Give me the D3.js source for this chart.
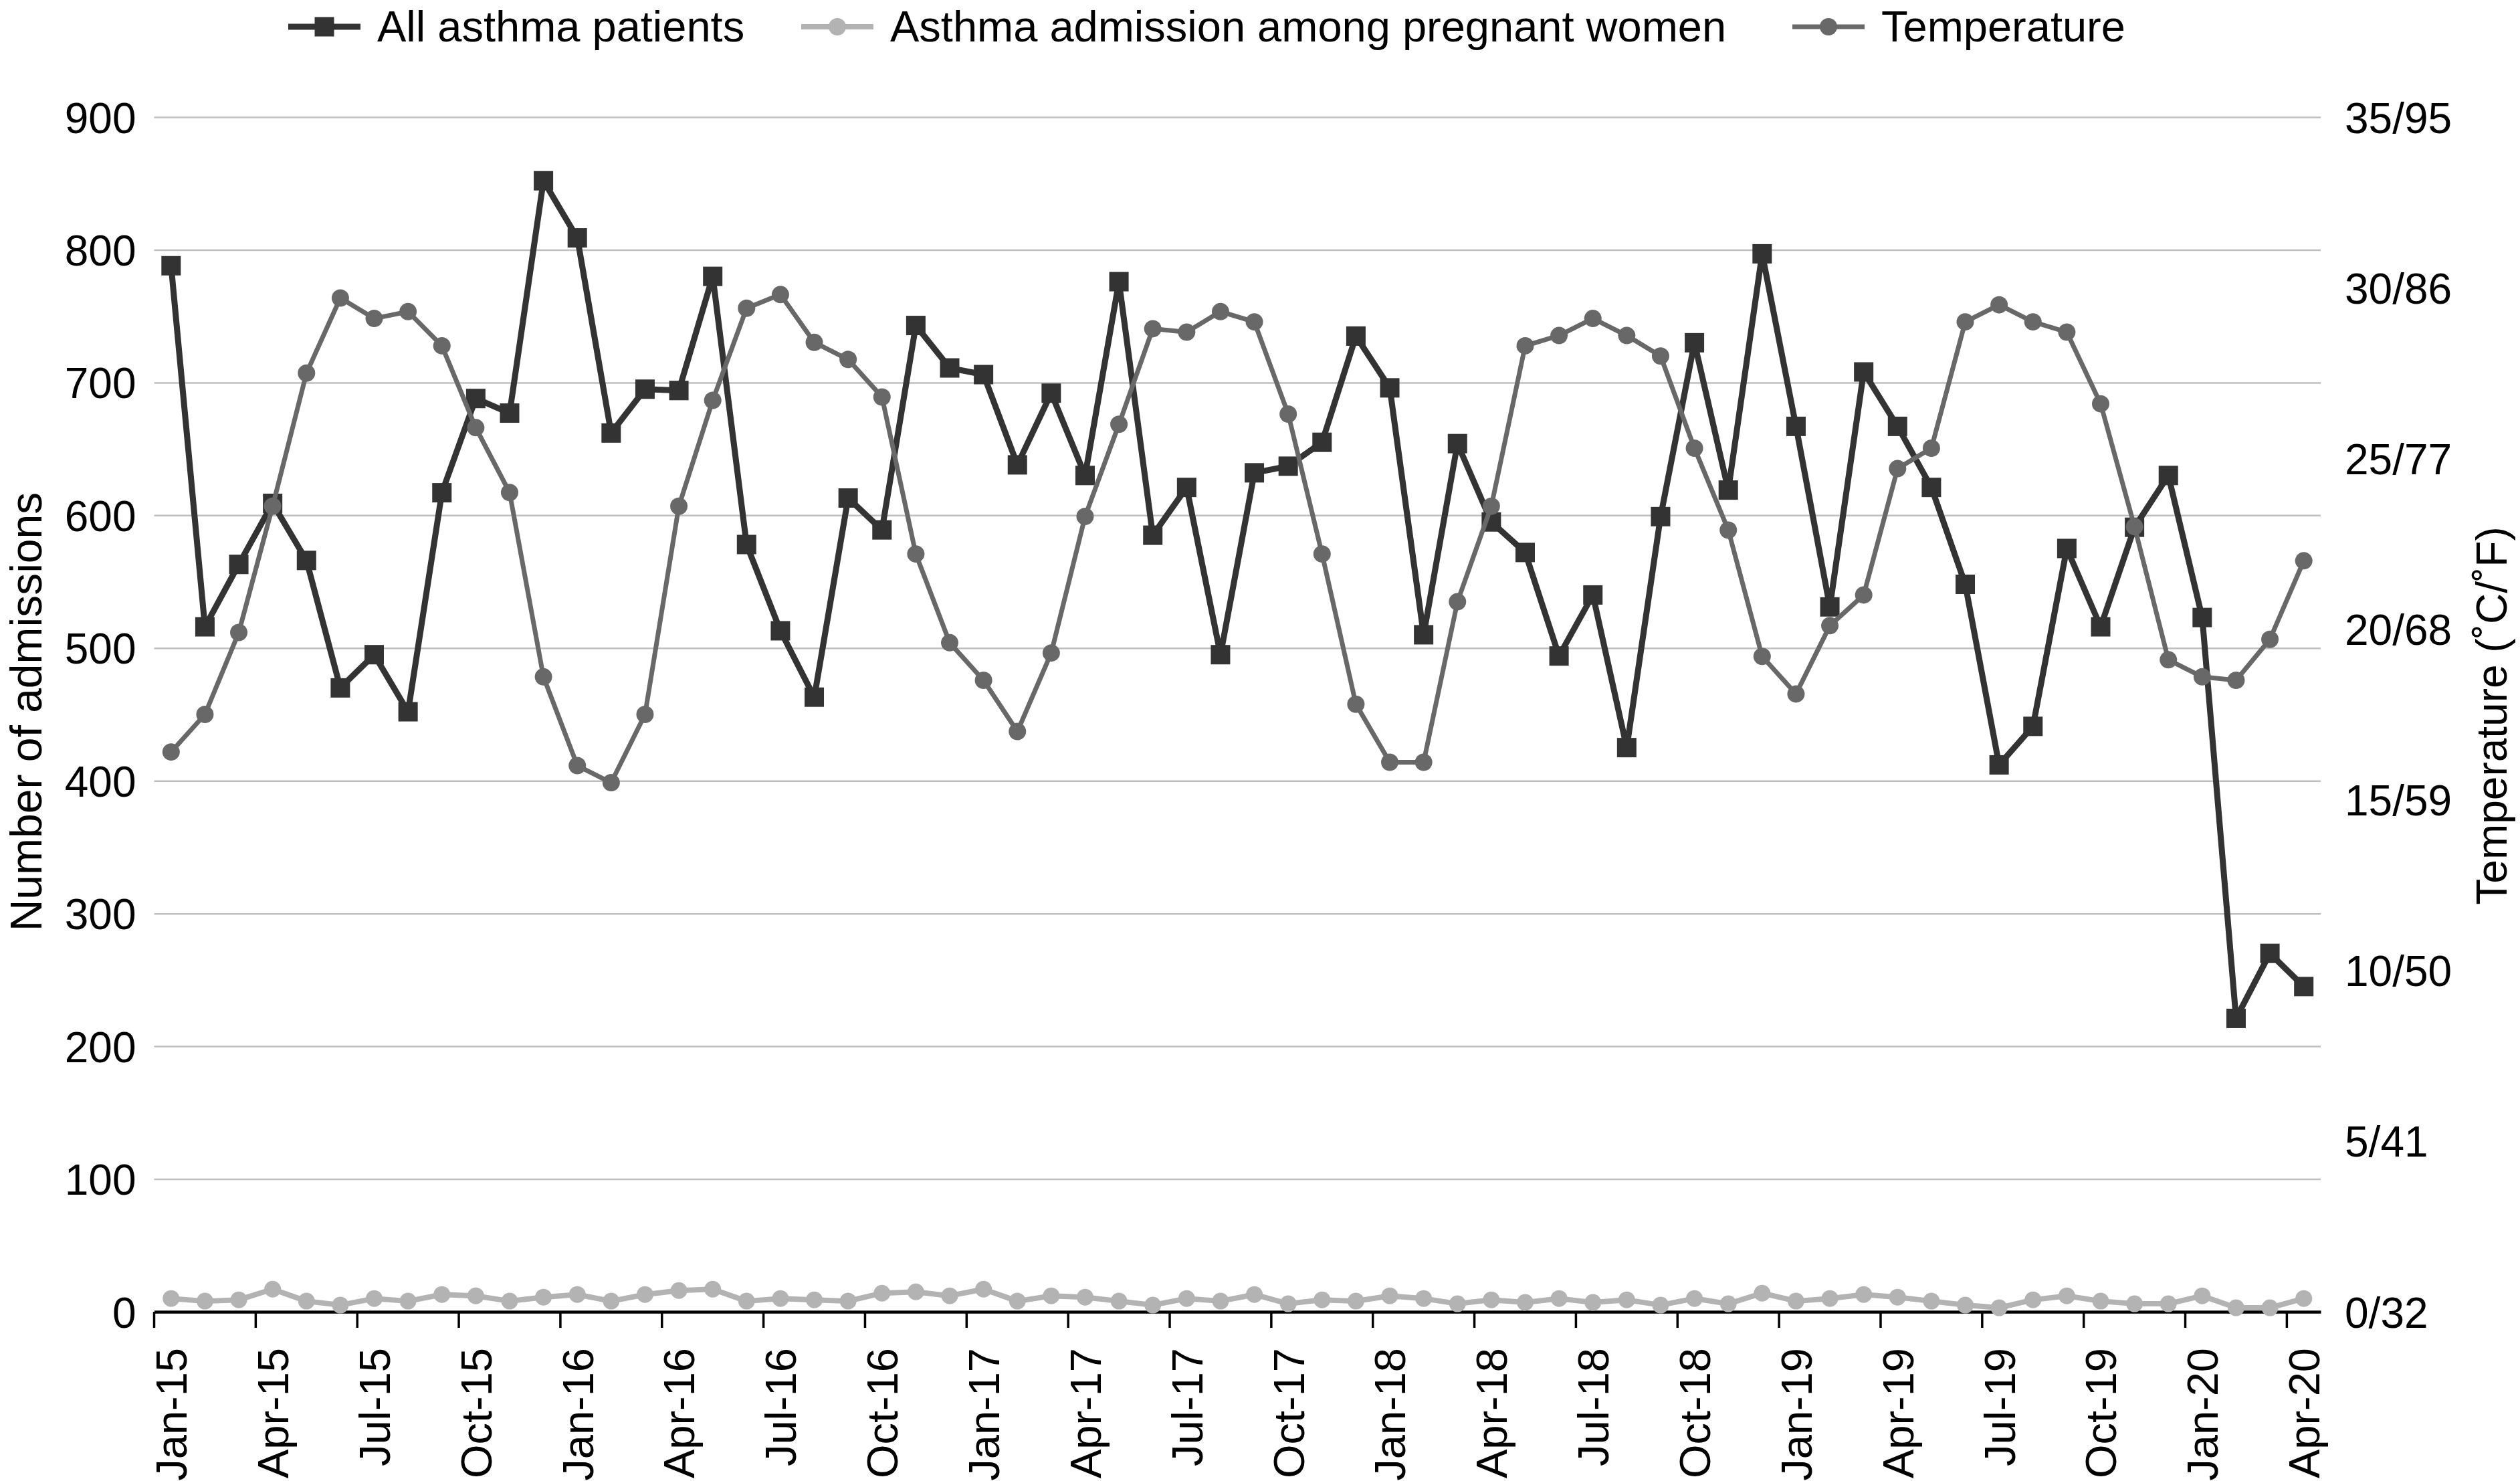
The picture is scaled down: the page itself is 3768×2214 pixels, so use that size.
<!DOCTYPE html>
<html>
<head>
<meta charset="utf-8">
<script src="https://cdn.jsdelivr.net/npm/d3@7"></script>
<style>
  html, body { margin: 0; padding: 0; background: #ffffff; }
  svg { display: block; }
  text { font-family: "Liberation Sans", Arial, Helvetica, sans-serif; fill: #000; }
</style>
</head>
<body>
<svg id="chart" width="3768" height="2214"></svg>
<script>
// ---------------- DATA ----------------
const months = [
  "Jan-15","Feb-15","Mar-15","Apr-15","May-15","Jun-15","Jul-15","Aug-15","Sep-15","Oct-15","Nov-15","Dec-15",
  "Jan-16","Feb-16","Mar-16","Apr-16","May-16","Jun-16","Jul-16","Aug-16","Sep-16","Oct-16","Nov-16","Dec-16",
  "Jan-17","Feb-17","Mar-17","Apr-17","May-17","Jun-17","Jul-17","Aug-17","Sep-17","Oct-17","Nov-17","Dec-17",
  "Jan-18","Feb-18","Mar-18","Apr-18","May-18","Jun-18","Jul-18","Aug-18","Sep-18","Oct-18","Nov-18","Dec-18",
  "Jan-19","Feb-19","Mar-19","Apr-19","May-19","Jun-19","Jul-19","Aug-19","Sep-19","Oct-19","Nov-19","Dec-19",
  "Jan-20","Feb-20","Mar-20","Apr-20"
];

const allAsthma = [
  788, 516, 563, 609, 566, 470, 495, 452, 617, 688, 677, 852,
  809, 662, 695, 694, 780, 578, 513, 463, 613, 589, 743, 711,
  706, 638, 692, 630, 776, 585, 621, 495, 632, 637, 655, 735,
  696, 510, 654, 595, 572, 494, 540, 425, 599, 730, 619, 797,
  667, 531, 708, 667, 621, 548, 412, 441, 575, 516, 591, 630,
  523, 221, 270, 245
];

const pregnant = [
  10, 8, 9, 17, 8, 5, 10, 8, 13, 12, 8, 11,
  13, 8, 13, 16, 17, 8, 10, 9, 8, 14, 15, 12,
  17, 8, 12, 11, 8, 5, 10, 8, 13, 6, 9, 8,
  12, 10, 6, 9, 7, 10, 7, 9, 5, 10, 6, 14,
  8, 10, 13, 11, 8, 5, 3, 9, 12, 8, 6, 6,
  12, 3, 3, 10
];

// Temperature in °C
const temperature = [
  16.4, 17.5, 19.9, 23.6, 27.5, 29.7, 29.1, 29.3, 28.3, 25.9, 24.0, 18.6,
  16.0, 15.5, 17.5, 23.6, 26.7, 29.4, 29.8, 28.4, 27.9, 26.8, 22.2, 19.6,
  18.5, 17.0, 19.3, 23.3, 26.0, 28.8, 28.7, 29.3, 29.0, 26.3, 22.2, 17.8,
  16.1, 16.1, 20.8, 23.6, 28.3, 28.6, 29.1, 28.6, 28.0, 25.3, 22.9, 19.2,
  18.1, 20.1, 21.0, 24.7, 25.3, 29.0, 29.5, 29.0, 28.7, 26.6, 23.0, 19.1,
  18.6, 18.5, 19.7, 22.0
];

const leftTicks = [0, 100, 200, 300, 400, 500, 600, 700, 800, 900];
const rightTicks = [0, 5, 10, 15, 20, 25, 30, 35];
const rightTickLabels = ["0/32", "5/41", "10/50", "15/59", "20/68", "25/77", "30/86", "35/95"];
const xTickLabels = months.filter((m, i) => i % 3 === 0);

const seriesNames = ["All asthma patients", "Asthma admission among pregnant women", "Temperature"];

// ---------------- LAYOUT ----------------
const W = 3768, H = 2214;
const plot = { left: 230.5, right: 3470, top: 175, bottom: 1961 };

const colAll = "#333333";
const colPreg = "#b3b3b3";
const colTemp = "#686868";
const colGrid = "#bfbfbf";

const svg = d3.select("#chart");
svg.append("rect").attr("width", W).attr("height", H).attr("fill", "#ffffff");

const x = d3.scaleBand().domain(months).range([plot.left, plot.right]).paddingInner(0).paddingOuter(0);
const bw = x.bandwidth();
const cx = m => x(m) + bw / 2;

const y = d3.scaleLinear().domain([0, 900]).range([plot.bottom, plot.top]);
const yT = d3.scaleLinear().domain([0, 35]).range([plot.bottom, plot.top]);

// Gridlines
const grid = svg.append("g")
  .attr("transform", `translate(${plot.left},0)`)
  .call(d3.axisLeft(y).tickValues(leftTicks.filter(v => v > 0)).tickSize(-(plot.right - plot.left)).tickFormat(""));
grid.select(".domain").remove();
grid.selectAll("line").attr("stroke", colGrid).attr("stroke-width", 2.5);

// Left axis labels
const yAxisL = svg.append("g")
  .attr("transform", `translate(${plot.left},0)`)
  .call(d3.axisLeft(y).tickValues(leftTicks).tickSize(0).tickPadding(27));
yAxisL.select(".domain").remove();
yAxisL.selectAll("text")
  .style("font-family", '"Liberation Sans", Arial, sans-serif')
  .style("font-size", "64px").attr("fill", "#000").attr("dy", "0.36em");

// Right axis labels
const yAxisR = svg.append("g")
  .attr("transform", `translate(${plot.right},0)`)
  .call(d3.axisRight(yT).tickValues(rightTicks).tickSize(0).tickPadding(36)
    .tickFormat((d, i) => rightTickLabels[i]));
yAxisR.select(".domain").remove();
yAxisR.selectAll("text")
  .style("font-family", '"Liberation Sans", Arial, sans-serif')
  .style("font-size", "64px").attr("fill", "#000").attr("dy", "0.36em");

// Bottom axis
const xAxis = svg.append("g")
  .attr("transform", `translate(0,${plot.bottom})`)
  .call(d3.axisBottom(x).tickValues(xTickLabels).tickSizeInner(24).tickSizeOuter(0));
xAxis.select(".domain").attr("stroke", "#000").attr("stroke-width", 4.5);
xAxis.selectAll(".tick line")
  .attr("stroke", "#000").attr("stroke-width", 3.5)
  .attr("transform", `translate(${-bw / 2},0)`);
xAxis.selectAll(".tick text")
  .style("font-family", '"Liberation Sans", Arial, sans-serif')
  .style("font-size", "65px").attr("fill", "#000")
  .attr("x", 0).attr("y", 0).attr("dy", "0.36em")
  .attr("text-anchor", "end")
  .attr("transform", "translate(0,54) rotate(-90)");

// Axis titles
svg.append("text")
  .attr("transform", `translate(38,1064) rotate(-90)`)
  .attr("text-anchor", "middle").attr("dy", "0.36em")
  .style("font-size", "66px")
  .text("Number of admissions");

svg.append("text")
  .attr("transform", `translate(3725,1070) rotate(-90)`)
  .attr("text-anchor", "middle").attr("dy", "0.36em")
  .style("font-size", "64px")
  .text("Temperature (˚C/˚F)");

// ---------------- SERIES ----------------
const lineAll = d3.line().x((d, i) => cx(months[i])).y(d => y(d));
const lineT = d3.line().x((d, i) => cx(months[i])).y(d => yT(d));

// All asthma
svg.append("path").datum(allAsthma)
  .attr("d", lineAll).attr("fill", "none")
  .attr("stroke", colAll).attr("stroke-width", 9).attr("stroke-linejoin", "round");
svg.append("g").selectAll("rect").data(allAsthma).join("rect")
  .attr("x", (d, i) => cx(months[i]) - 14.5)
  .attr("y", d => y(d) - 14.5)
  .attr("width", 29).attr("height", 29)
  .attr("fill", colAll);

// Pregnant
svg.append("path").datum(pregnant)
  .attr("d", lineAll).attr("fill", "none")
  .attr("stroke", colPreg).attr("stroke-width", 8).attr("stroke-linejoin", "round");
svg.append("g").selectAll("circle").data(pregnant).join("circle")
  .attr("cx", (d, i) => cx(months[i]))
  .attr("cy", d => y(d))
  .attr("r", 12.5)
  .attr("fill", colPreg);

// Temperature
svg.append("path").datum(temperature)
  .attr("d", lineT).attr("fill", "none")
  .attr("stroke", colTemp).attr("stroke-width", 7).attr("stroke-linejoin", "round");
svg.append("g").selectAll("circle").data(temperature).join("circle")
  .attr("cx", (d, i) => cx(months[i]))
  .attr("cy", d => yT(d))
  .attr("r", 13)
  .attr("fill", colTemp);

// ---------------- LEGEND ----------------
const legendItems = [
  { name: seriesNames[0], color: colAll, marker: "square", x0: 431, sw: 9 },
  { name: seriesNames[1], color: colPreg, marker: "circle", x0: 1198, sw: 8 },
  { name: seriesNames[2], color: colTemp, marker: "circle", x0: 2680, sw: 7 }
];
const legY = 40;
const lg = svg.append("g");
legendItems.forEach(it => {
  const g = lg.append("g");
  g.append("line").attr("x1", it.x0).attr("x2", it.x0 + 108)
    .attr("y1", legY).attr("y2", legY)
    .attr("stroke", it.color).attr("stroke-width", it.sw);
  if (it.marker === "square") {
    g.append("rect").attr("x", it.x0 + 54 - 14.5).attr("y", legY - 14.5)
      .attr("width", 29).attr("height", 29).attr("fill", it.color);
  } else {
    g.append("circle").attr("cx", it.x0 + 54).attr("cy", legY).attr("r", 13).attr("fill", it.color);
  }
  g.append("text").attr("x", it.x0 + 133).attr("y", 62)
    .style("font-size", "65px").text(it.name);
});
</script>
</body>
</html>
